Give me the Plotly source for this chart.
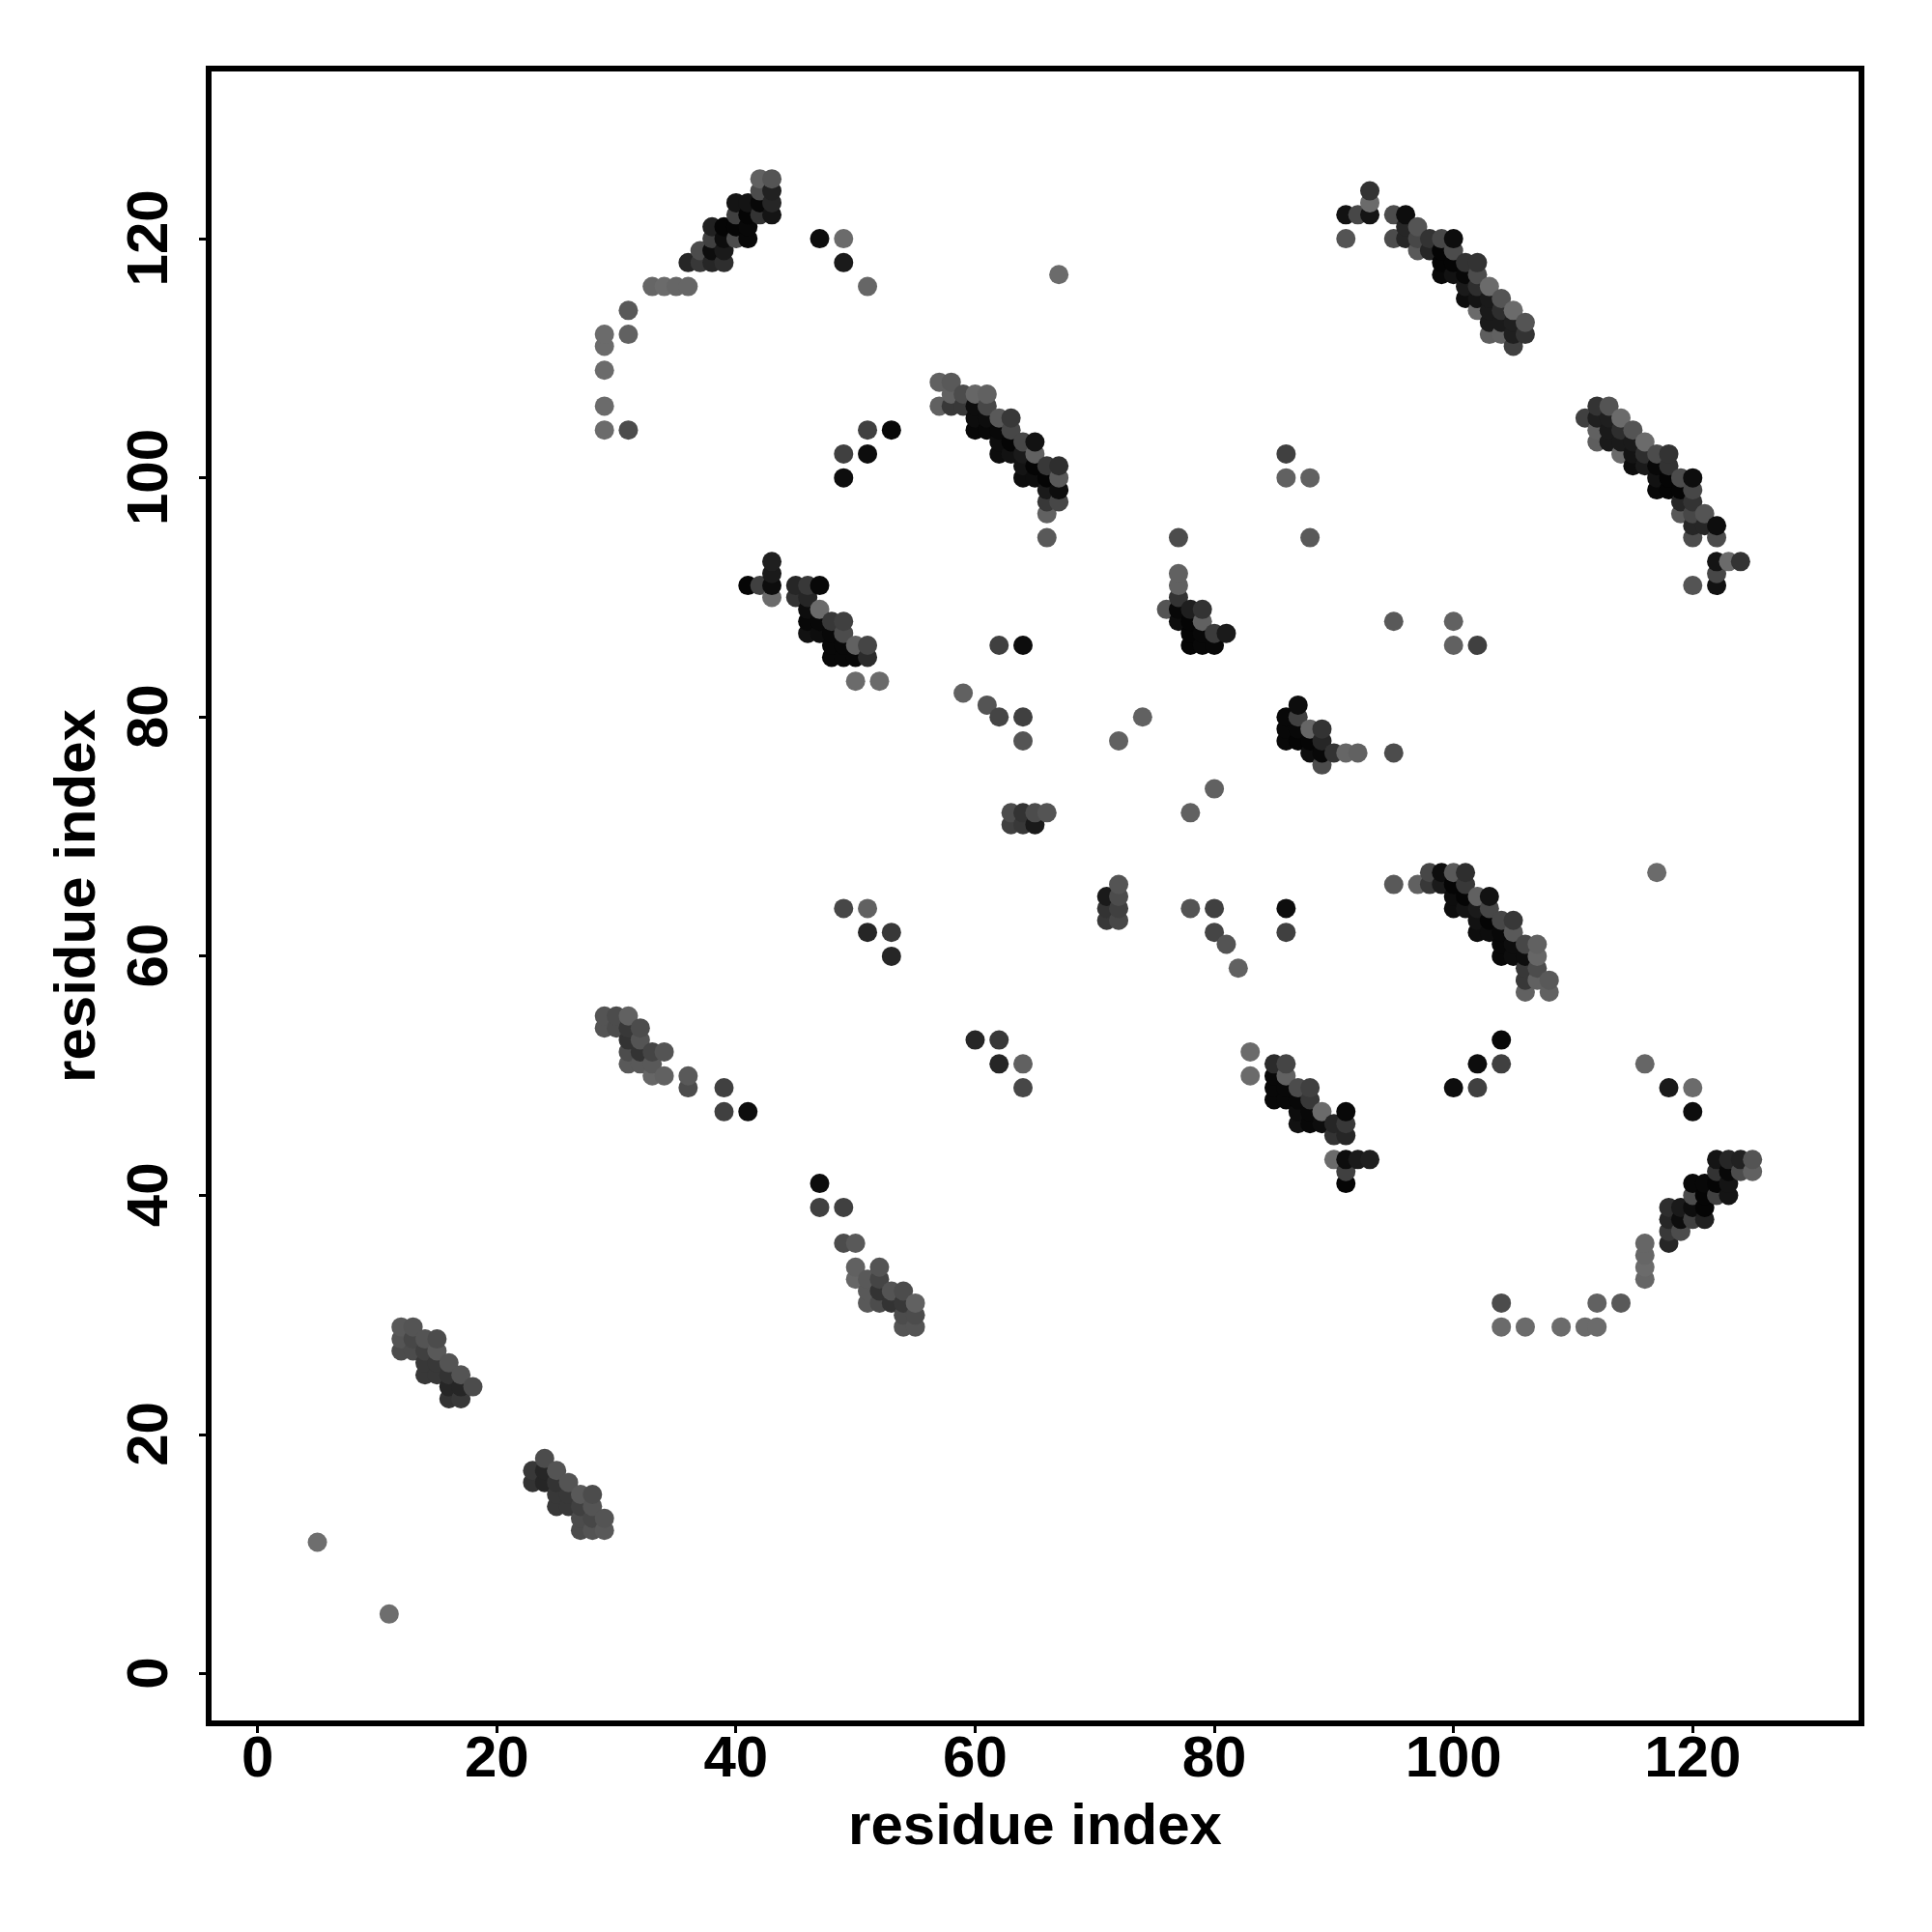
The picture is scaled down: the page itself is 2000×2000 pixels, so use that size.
import plotly.graph_objects as go

# Upper-triangle contacts (the map is symmetric); listed row by row (res_j = row)
res_i = [
    42,43,
    42,43,
    40,41,42,43,
    40,41,42,43,
    38,39,40,41,
    38,39,40,41,
    37,38,39,
    36,37,38,39,
    33,34,35,36,
    31,31,
    29,29,29,29,29,31,
    47,49,49,51,67,
    93,93,
    91,92,93,95,96,
    96,97,
    91,95,96,97,98,99,100,
    97,98,99,100,
    99,100,101,102,
    99,100,101,102,
    101,102,103,
    101,102,103,104,
    102,103,104,105,
    103,104,105,106,
    103,104,105,106,
    105,
    57,58,
    58,59,60,61,
    57,58,59,60,61,
    60,61,62,63,
    60,61,62,63,
    62,63,64,65,
    62,63,64,65,
    64,65,66,67,
    64,65,66,67,
    66,67,
    66,67,
    66,66,
    43,43,
    41,42,43,45,46,47,
    43,45,46,
    46,47,
    46,47,48,49,
    46,47,48,49,
    48,49,50,51,
    48,49,50,51,
    50,52,
    77,77,77,77,
    76,77,78,79,
    77,78,79,
    78,79,80,81,
    78,79,80,
    87,86,87,
    86,87,88,89,
    86,87,88,89,
    88,89,90,91,92,95,
    89,
    29,30,31,
    29,30,31,32,
    31,32,
    31,32,33,34,
    31,32,33,
    33,34,36,
    36,39,
    39,41,
    12,13,
    12,13,14,15,
    12,13,14,15,
    14,15,16,
    14,15,16,17,
    16,17,18,
    16,17,
    63,64,65,66,
    63,64,65,
    72,71,72,71,72,71,72,
    49,49,51,51,53,
    59,61,62,64,64,62,64,
    49,51,51,53,53,
    72,74,
    86,86,88,88,
    5,
]
res_j = [
    125,125,
    124,124,
    123,123,123,123,
    122,122,122,122,
    121,121,121,121,
    120,120,120,120,
    119,119,119,
    118,118,118,118,
    116,116,116,116,
    114,112,
    112,111,109,106,104,104,
    120,120,118,116,117,
    124,123,
    122,122,122,122,122,
    121,121,
    120,120,120,120,120,120,120,
    119,119,119,119,
    118,118,118,118,
    117,117,117,117,
    116,116,116,
    115,115,115,115,
    114,114,114,114,
    113,113,113,113,
    112,112,112,112,
    111,
    108,108,
    107,107,107,107,
    106,106,106,106,106,
    105,105,105,105,
    104,104,104,104,
    103,103,103,103,
    102,102,102,102,
    101,101,101,101,
    100,100,100,100,
    99,99,
    98,98,
    97,95,
    93,92,
    91,91,91,91,91,91,
    90,90,90,
    89,89,
    88,88,88,88,
    87,87,87,87,
    86,86,86,86,
    85,85,85,85,
    83,83,
    95,92,91,90,
    89,89,89,89,
    88,88,88,
    87,87,87,87,
    86,86,86,
    81,80,80,
    79,79,79,79,
    78,78,78,78,
    77,77,77,77,77,77,
    76,
    55,55,55,
    54,54,54,54,
    53,53,
    52,52,52,52,
    51,51,51,
    50,50,50,
    49,49,
    47,47,
    29,29,
    28,28,28,28,
    27,27,27,27,
    26,26,26,
    25,25,25,25,
    24,24,24,
    23,23,
    72,72,72,72,
    71,71,71,
    66,65,65,64,64,63,63,
    102,100,104,102,104,
    82,81,80,80,78,86,86,
    64,64,62,62,60,
    78,80,
    102,100,100,95,
    11,
]
shade = [
    .38,.33,
    .30,.13,
    .08,.08,.03,.15,
    .25,.02,.20,.08,
    .13,.02,.02,.03,
    .25,.05,.30,.03,
    .30,.05,.10,
    .15,.22,.15,.18,
    .40,.42,.40,.40,
    .35,.38,
    .42,.42,.42,.42,.42,.30,
    .05,.42,.10,.40,.42,
    .20,.42,
    .07,.28,.08,.30,.05,
    .15,.33,
    .33,.30,.15,.28,.20,.28,.05,
    .35,.15,.02,.30,
    .02,.02,.20,.20,
    .03,.07,.03,.30,
    .10,.18,.42,
    .05,.08,.10,.33,
    .42,.10,.18,.42,
    .10,.10,.12,.33,
    .37,.38,.12,.20,
    .25,
    .38,.35,
    .38,.30,.40,.38,
    .38,.22,.22,.05,.28,
    .05,.05,.35,.22,
    .03,.03,.03,.28,
    .05,.02,.28,.07,
    .05,.07,.10,.38,
    .08,.02,.22,.18,
    .05,.05,.02,.35,
    .10,.05,
    .22,.28,
    .38,.35,
    .12,.10,
    .02,.25,.05,.15,.22,.03,
    .42,.20,.15,
    .05,.42,
    .03,.03,.22,.25,
    .07,.05,.03,.30,
    .03,.03,.38,.27,
    .03,.03,.03,.17,
    .42,.42,
    .30,.38,.40,.20,
    .30,.03,.15,.20,
    .05,.02,.40,
    .02,.03,.25,.05,
    .03,.03,.03,
    .10,.03,.23,
    .03,.03,.38,.20,
    .02,.02,.02,.12,
    .05,.03,.20,.38,.38,.30,
    .33,
    .33,.30,.38,
    .33,.30,.22,.30,
    .20,.33,
    .30,.20,.27,.33,
    .35,.35,.35,
    .40,.38,.35,
    .30,.25,
    .25,.05,
    .35,.33,
    .33,.28,.33,.30,
    .30,.30,.25,.35,
    .22,.22,.33,
    .22,.22,.20,.33,
    .15,.15,.30,
    .20,.22,
    .28,.25,.30,.33,
    .22,.20,.10,
    .33,.10,.30,.22,.20,.25,.30,
    .25,.05,.25,.05,.03,
    .38,.33,.27,.25,.33,.25,.05,
    .28,.38,.15,.22,.15,
    .38,.38,
    .25,.38,.38,.35,
    .43,
]
tick_values = [0, 20, 40, 60, 80, 100, 120]
axis_title = "residue index"

assert len(res_i) == len(res_j) == len(shade), (len(res_i), len(res_j), len(shade))

contacts = sorted(
    {(i, j): s for i, j, s in zip(res_i + res_j, res_j + res_i, shade + shade)}.items()
)
xs = [c[0][0] for c in contacts]
ys = [c[0][1] for c in contacts]
colors = [f"rgb({round(c[1]*255)},{round(c[1]*255)},{round(c[1]*255)})" for c in contacts]

fig = go.Figure(
    go.Scatter(
        x=xs, y=ys, mode="markers",
        marker=dict(size=20, color=colors, line=dict(width=0)),
        hoverinfo="skip",
    )
)

font = dict(family="Liberation Sans", size=60, color="black", weight=700)
title_font = dict(family="Liberation Sans", size=60, color="black", weight=700)
axis = dict(
    tickmode="array", tickvals=tick_values,
    ticks="outside", ticklen=7, tickwidth=3, tickcolor="black",
    showline=True, linecolor="black", linewidth=5.5, mirror=True,
    showgrid=False, zeroline=False, tickfont=font,
)
fig.update_xaxes(**axis, ticktext=[str(t) for t in tick_values],
                 range=[-3.85, 133.87], ticklabelstandoff=-27,
                 title=dict(text=axis_title, font=title_font, standoff=18))
# a trailing no-break space centres the rotated digits on their ticks
fig.update_yaxes(**axis, ticktext=[f"{t}\u00a0" for t in tick_values],
                 range=[-3.9, 133.98], tickangle=-90, ticklabelstandoff=9,
                 title=dict(text=axis_title, font=title_font, standoff=3))
fig.update_layout(
    width=2000, height=2000, autosize=False,
    margin=dict(l=211, r=84, t=66, b=227, autoexpand=False),
    paper_bgcolor="white", plot_bgcolor="white", showlegend=False,
)
fig.write_html("out.html")
